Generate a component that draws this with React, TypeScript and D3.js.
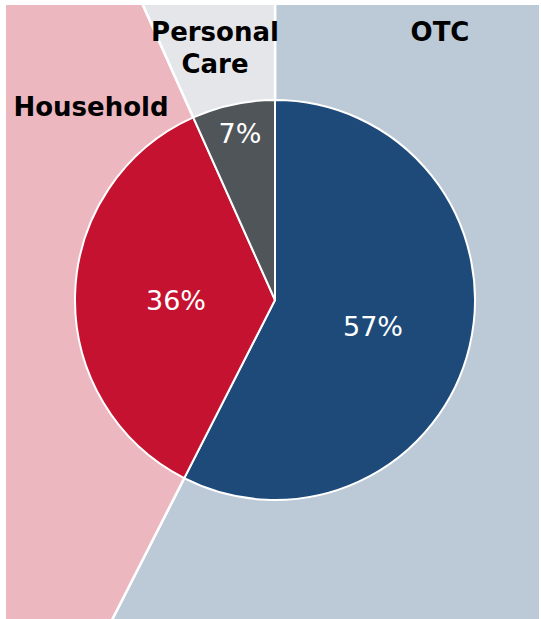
import React from "react";
import * as d3 from "d3";

const categories = ["OTC", "Household", "Personal Care"];
const values = [57.5, 35.8, 6.7];
const pctLabels = ["57%", "36%", "7%"];
const darkColors = ["#1E4A7A", "#C41230", "#4F5558"];
const lightColors = ["#BCC9D6", "#EDB7C0", "#E4E6EA"];

const W = 541;
const H = 619;
const cx = 275;
const cy = 300;
const R = 200;
const bg = { x0: 6, y0: 5, x1: 539, y1: 619 };

export default function App() {
  const pie = d3
    .pie<number>()
    .sort(null)
    .value((d) => d)
    .startAngle(0)
    .endAngle(2 * Math.PI);
  const arcs = pie(values);
  const arc = d3.arc<d3.PieArcDatum<number>>().innerRadius(0).outerRadius(R);
  const bigArc = d3.arc<d3.PieArcDatum<number>>().innerRadius(0).outerRadius(1200);

  const labelPos = [
    [373, 326],
    [176, 300],
    [240, 133],
  ];
  return (
    <svg width={W} height={H} style={{ position: "absolute", left: 0, top: 0 }}>
      <defs>
        <clipPath id="bgclip" clipPathUnits="userSpaceOnUse">
          <rect x={bg.x0} y={bg.y0} width={bg.x1 - bg.x0} height={bg.y1 - bg.y0} />
        </clipPath>
      </defs>
      <rect width={W} height={H} fill="#ffffff" />
      <g clipPath="url(#bgclip)">
        <g transform={`translate(${cx},${cy})`}>
          {arcs.map((a, i) => (
            <path key={i} d={bigArc(a) || ""} fill={lightColors[i]} stroke="#ffffff" strokeWidth={2.5} />
          ))}
        </g>
      </g>
      <g transform={`translate(${cx},${cy})`}>
        {arcs.map((a, i) => (
          <path key={i} d={arc(a) || ""} fill={darkColors[i]} stroke="#ffffff" strokeWidth={2} />
        ))}
      </g>
      {arcs.map((a, i) => (
        <text
          key={i}
          x={labelPos[i][0]}
          y={labelPos[i][1]}
          textAnchor="middle"
          dominantBaseline="central"
          fill="#ffffff"
          fontFamily="DejaVu Sans, Verdana, sans-serif"
          fontSize={27}
        >
          {pctLabels[i]}
        </text>
      ))}
      <g fontFamily="DejaVu Sans, Verdana, sans-serif" fontWeight="bold" fontSize={26} fill="#000000">
        <text x={440} y={32} textAnchor="middle" dominantBaseline="central">
          {categories[0]}
        </text>
        <text x={91} y={107} textAnchor="middle" dominantBaseline="central">
          {categories[1]}
        </text>
        <text x={215} y={32} textAnchor="middle" dominantBaseline="central">
          Personal
        </text>
        <text x={215} y={64} textAnchor="middle" dominantBaseline="central">
          Care
        </text>
      </g>
    </svg>
  );
}
